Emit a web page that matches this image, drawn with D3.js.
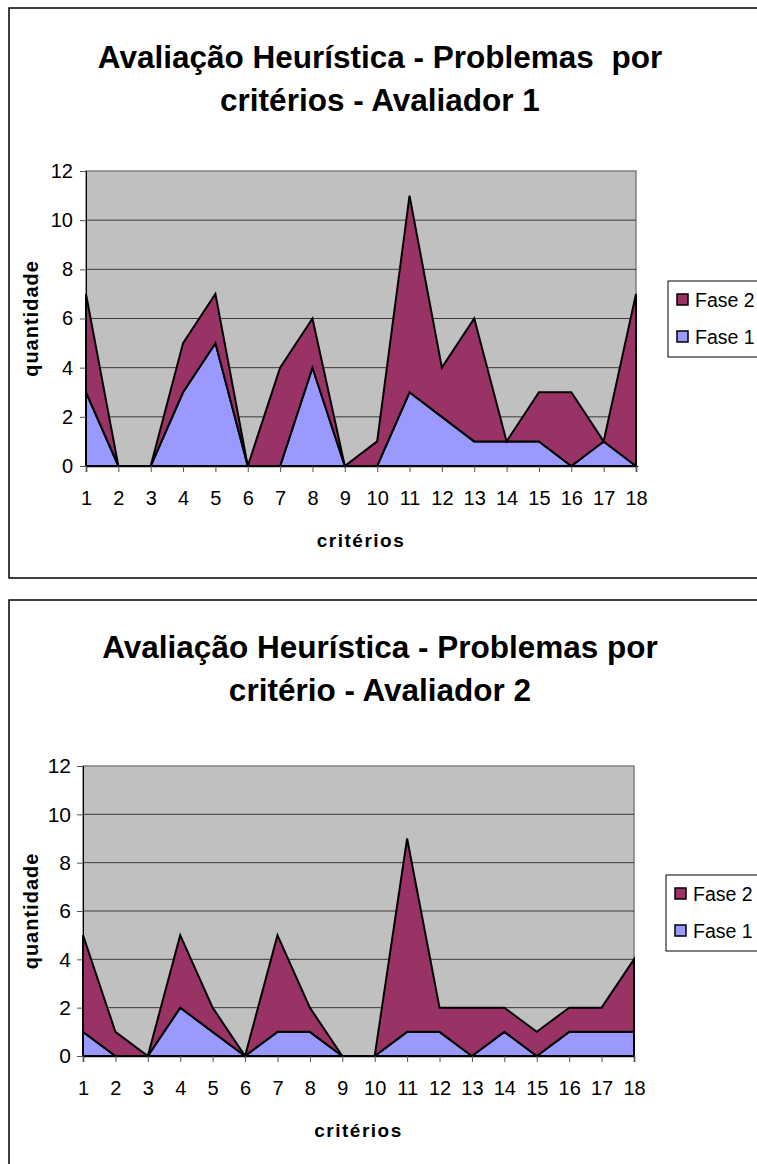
<!DOCTYPE html>
<html>
<head>
<meta charset="utf-8">
<script src="https://cdnjs.cloudflare.com/ajax/libs/d3/7.8.5/d3.min.js"></script>
<style>
  html, body { margin: 0; padding: 0; background: #fff; }
  svg { display: block; font-family: "Liberation Sans", Arial, sans-serif; }
</style>
</head>
<body>
<svg id="chart" width="757" height="1164"></svg>
<script>
// ---- data ----
const criterios = ["1","2","3","4","5","6","7","8","9","10","11","12","13","14","15","16","17","18"];
const yTicks = [0, 2, 4, 6, 8, 10, 12];
const seriesNames = ["Fase 1", "Fase 2"];

const av1Fase1 = [3, 0, 0, 3, 5, 0, 0, 4, 0, 0, 3, 2, 1, 1, 1, 0, 1, 0];
const av1Fase2 = [4, 0, 0, 2, 2, 0, 4, 2, 0, 1, 8, 2, 5, 0, 2, 3, 0, 7];

const av2Fase1 = [1, 0, 0, 2, 1, 0, 1, 1, 0, 0, 1, 1, 0, 1, 0, 1, 1, 1];
const av2Fase2 = [4, 1, 0, 3, 1, 0, 4, 1, 0, 0, 8, 1, 2, 1, 1, 1, 1, 3];

const titles1 = ["Avaliação Heurística - Problemas  por", "critérios - Avaliador 1"];
const titles2 = ["Avaliação Heurística - Problemas por", "critério - Avaliador 2"];
const xTitle = "critérios";
const yTitle = "quantidade";

const colors = { "Fase 1": "#9999FF", "Fase 2": "#993366" };

const svg = d3.select("#chart");

function drawChart(cfg) {
  const g = svg.append("g");
  // outer frame
  g.append("rect")
    .attr("x", cfg.frame[0]).attr("y", cfg.frame[1])
    .attr("width", cfg.frame[2]).attr("height", cfg.frame[3])
    .attr("fill", "#fff").attr("stroke", "#000").attr("stroke-width", 1.5);

  // titles
  cfg.titles.forEach((t, i) => {
    g.append("text")
      .attr("x", cfg.titleX).attr("y", cfg.titleY[i])
      .attr("text-anchor", "middle")
      .style("white-space", "pre")
      .attr("font-size", cfg.titleSize).attr("font-weight", "bold")
      .text(t);
  });

  const x = d3.scalePoint().domain(criterios).range([cfg.plot[0], cfg.plot[1]]);
  const y = d3.scaleLinear().domain([0, 12]).range([cfg.plot[3], cfg.plot[2]]);

  // plot background
  g.append("rect")
    .attr("x", cfg.plot[0]).attr("y", cfg.plot[2])
    .attr("width", cfg.plot[1] - cfg.plot[0]).attr("height", cfg.plot[3] - cfg.plot[2])
    .attr("fill", "#C0C0C0").attr("stroke", "#808080").attr("stroke-width", 1.5);

  // gridlines
  g.append("g").selectAll("line").data(yTicks.filter(v => v > 0 && v < 12)).join("line")
    .attr("x1", cfg.plot[0]).attr("x2", cfg.plot[1])
    .attr("y1", d => y(d)).attr("y2", d => y(d))
    .attr("stroke", "#3a3a3a").attr("stroke-width", 1);

  // stacked areas
  const rows = criterios.map((c, i) => ({ c, "Fase 1": cfg.f1[i], "Fase 2": cfg.f2[i] }));
  const stacked = d3.stack().keys(seriesNames)(rows);
  const area = d3.area()
    .x(d => x(d.data.c))
    .y0(d => y(d[0]))
    .y1(d => y(d[1]));
  g.append("g").selectAll("path").data(stacked).join("path")
    .attr("d", s => area(s) + "")
    .attr("fill", s => colors[s.key])
    .attr("stroke", "#000").attr("stroke-width", 2)
    .attr("stroke-linejoin", "miter");

  // axes
  const yAxis = d3.axisLeft(y).tickValues(yTicks).tickSize(6).tickPadding(cfg.yPad);
  const ya = g.append("g").attr("transform", `translate(${cfg.plot[0]},0)`).call(yAxis);
  ya.attr("font-size", null);
  ya.select(".domain").attr("stroke", "#000").attr("stroke-width", 1);
  ya.selectAll(".tick line").attr("stroke", "#555");
  ya.selectAll("text").style("font-size", cfg.yTickSize + "px").attr("font-family", "Liberation Sans, Arial, sans-serif").attr("fill", "#000");

  const xAxis = d3.axisBottom(x).tickSize(6).tickPadding(cfg.xPad);
  const xa = g.append("g").attr("transform", `translate(0,${cfg.plot[3]})`).call(xAxis);
  xa.attr("font-size", null);
  xa.select(".domain").attr("stroke", "#000").attr("stroke-width", 1.5);
  xa.selectAll(".tick line").attr("stroke", "#555");
  xa.selectAll("text").style("font-size", cfg.xTickSize + "px").attr("font-family", "Liberation Sans, Arial, sans-serif").attr("fill", "#000");

  // axis titles
  g.append("text")
    .attr("x", (cfg.plot[0] + cfg.plot[1]) / 2).attr("y", cfg.xTitleY)
    .attr("text-anchor", "middle").attr("font-size", 19).attr("font-weight", "bold")
    .attr("letter-spacing", 1.5)
    .text(xTitle);
  g.append("text")
    .attr("transform", `translate(${cfg.yTitleX},${(cfg.plot[2] + cfg.plot[3]) / 2}) rotate(-90)`)
    .attr("text-anchor", "middle").attr("font-size", 20).attr("font-weight", "bold")
    .attr("letter-spacing", 1)
    .text(yTitle);

  // legend
  const lg = g.append("g").attr("transform", `translate(${cfg.legend[0]},${cfg.legend[1]})`);
  lg.append("rect").attr("x", 0).attr("y", 0).attr("width", 120).attr("height", 76)
    .attr("fill", "#fff").attr("stroke", "#000").attr("stroke-width", 1);
  const legendOrder = ["Fase 2", "Fase 1"];
  legendOrder.forEach((k, i) => {
    lg.append("rect").attr("x", 9).attr("y", 13 + i * 37).attr("width", 11).attr("height", 11)
      .attr("fill", colors[k]).attr("stroke", "#000").attr("stroke-width", 1.5);
    lg.append("text").attr("x", 27).attr("y", 25.5 + i * 37)
      .attr("font-size", 19.5).text(k);
  });
}

drawChart({
  frame: [9, 8, 760, 570],
  titles: titles1, titleX: 380, titleY: [68, 111], titleSize: 31.5,
  plot: [86, 636, 171, 466],
  yPad: 7, xPad: 19, yTickSize: 20, xTickSize: 20,
  xTitleY: 547, yTitleX: 38,
  legend: [668, 281],
  f1: av1Fase1, f2: av1Fase2
});

drawChart({
  frame: [9, 600, 760, 600],
  titles: titles2, titleX: 380, titleY: [658, 701], titleSize: 31.5,
  plot: [83, 634, 766, 1056],
  yPad: 6, xPad: 19, yTickSize: 21, xTickSize: 20,
  xTitleY: 1137, yTitleX: 38,
  legend: [666, 875],
  f1: av2Fase1, f2: av2Fase2
});
</script>
</body>
</html>
